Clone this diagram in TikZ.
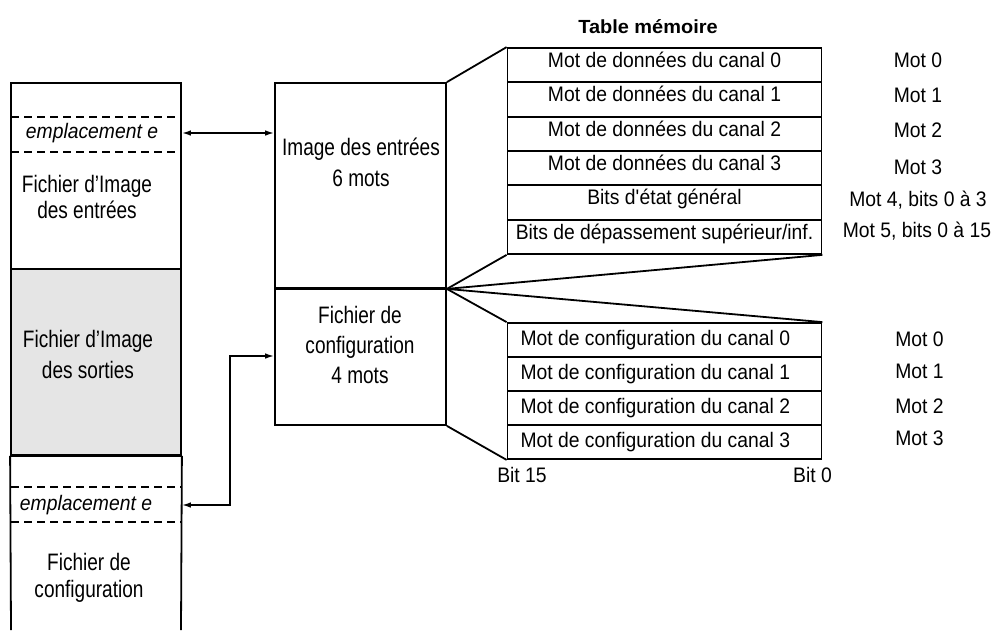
\documentclass[tikz,border=0pt]{standalone}
\usepackage{fontspec}
\setmainfont{Liberation Sans}[FakeStretch=0.92]
\newfontfamily\etroit{Liberation Sans}[FakeStretch=0.8]
\newfontfamily\titre{Liberation Sans}[FakeStretch=1.05]
\usetikzlibrary{arrows.meta, positioning}

\tikzset{
	every node/.style={font=\fontsize{10.5}{12.5}\selectfont},
	grand/.style={align=center, font=\etroit\fontsize{11.9}{#1}\selectfont},
	cadre/.style={draw, line width=0.9pt, inner sep=0pt},
	ligne/.style={draw, line width=0.9pt, minimum width=157pt, minimum height=17.17pt, inner sep=0pt, text height=7.6pt, text depth=5.4pt},
	ligneconf/.style={draw, line width=0.9pt, minimum width=157pt, minimum height=17pt, inner xsep=6.5pt, inner ysep=0pt, text width=144pt, align=flush left},
	fleche/.style={line width=0.8pt, {Latex[length=4.5pt,width=2.8pt]}-{Latex[length=4.5pt,width=2.8pt]}},
	pointille/.style={line width=0.8pt, dash pattern=on 4pt off 2.5pt},
}

\begin{document}
\begin{tikzpicture}[x=0.5pt, y=-0.5pt]
	\useasboundingbox (0,0) rectangle (997,633);

	%colonne de gauche
	\node[cadre, minimum width=85pt, minimum height=93pt] 				(entrees) 	at (96, 176) 	{};
	\node[cadre, fill=gray!20, minimum width=85pt, minimum height=93pt] 	(sorties) 	at (96, 362) 	{};
	\draw[line width=0.9pt] (sorties.south west) to (11, 630);
	\draw[line width=0.9pt] (sorties.south east) to (181, 630);
	\draw[line width=1.4pt] (sorties.south west) to (sorties.south east);

	\draw[pointille] (11, 117) to (181, 117);
	\draw[pointille] (11, 152) to (181, 152);
	\draw[pointille] (11, 487) to (181, 487);
	\draw[pointille] (11, 522) to (181, 522);

	\node (empl1) 	at (92, 133) 	{\itshape emplacement e};
	\node (empl2) 	at (86, 505) 	{\itshape emplacement e};
	\node[grand=12.75] (txtent) 	at (87, 197) 	{Fichier d’Image\\des entrées};
	\node[grand=15.5] (txtsor) 	at (88, 354) 	{Fichier d’Image\\des sorties};
	\node[grand=13.5] (txtconf) 	at (89, 578) 	{Fichier de\\configuration};

	%colonne du milieu
	\node[cadre, minimum width=85.5pt, minimum height=102.5pt] 	(imgin) 	at (360.5, 185.5) 	{};
	\node[cadre, minimum width=85.5pt, minimum height=68.5pt] 	(cfgin) 	at (360.5, 356.5) 	{};
	\draw[line width=1.5pt] (imgin.south west) to (imgin.south east);
	\node[grand=15.5] (txtimg) 	at (361, 162) 	{Image des entrées\\6 mots};
	\node[grand=15] (txtcfg) 	at (360, 345) 	{Fichier de\\configuration\\4 mots};

	\draw[fleche] (entrees.east |- empl1) to (imgin.west |- empl1);
	\coordinate (coude) at (230, 356);
	\draw[fleche] (sorties.east |- empl2) -| (coude) -- (cfgin.west |- coude);

	%partie droite
	\node[font=\titre\fontsize{9.5}{11}\selectfont\bfseries] (titre) at (648, 27) {Table mémoire};

	\node[ligne] (d0) 	at (664.5, 65.2) 	{Mot de données du canal 0};
	\node[ligne] (d1) 	at (664.5, 99.5) 	{Mot de données du canal 1};
	\node[ligne] (d2) 	at (664.5, 133.8) 	{Mot de données du canal 2};
	\node[ligne] (d3) 	at (664.5, 168.2) 	{Mot de données du canal 3};
	\node[ligne] (d4) 	at (664.5, 202.5) 	{Bits d\textquotesingle état général};
	\node[ligne] (d5) 	at (664.5, 236.8) 	{Bits de dépassement supérieur/inf.};

	\node (m0) 	at (918, 60.5) 	{Mot 0};
	\node (m1) 	at (918, 95) 	{Mot 1};
	\node (m2) 	at (918, 130) 	{Mot 2};
	\node (m3) 	at (918, 167) 	{Mot 3};
	\node (m4) 	at (918, 200) 	{Mot 4, bits 0 à 3};
	\node (m5) 	at (917, 231) 	{Mot 5, bits 0 à 15};

	\node[ligneconf] (c0) 	at (664.5, 340) 	{Mot de configuration du canal 0};
	\node[ligneconf] (c1) 	at (664.5, 374) 	{Mot de configuration du canal 1};
	\node[ligneconf] (c2) 	at (664.5, 408) 	{Mot de configuration du canal 2};
	\node[ligneconf] (c3) 	at (664.5, 442) 	{Mot de configuration du canal 3};

	\node (n0) 	at (919.5, 339) 	{Mot 0};
	\node (n1) 	at (919.5, 371.5) 	{Mot 1};
	\node (n2) 	at (919.5, 406) 	{Mot 2};
	\node (n3) 	at (919.5, 438) 	{Mot 3};

	\node (bit15) 	at (522, 474.5) 	{Bit 15};
	\node (bit0) 	at (812.5, 474.5) 	{Bit 0};

	%lignes de projection
	\draw[line width=0.9pt] (imgin.north east) to (d0.north west);
	\draw[line width=0.9pt] (imgin.south east) to (d5.south west);
	\draw[line width=0.9pt] (imgin.south east) to (d5.south east);
	\draw[line width=0.9pt] (imgin.south east) to (c0.north west);
	\draw[line width=0.9pt] (imgin.south east) to (c0.north east);
	\draw[line width=0.9pt] (cfgin.south east) to (c3.south west);

\end{tikzpicture}
\end{document}
